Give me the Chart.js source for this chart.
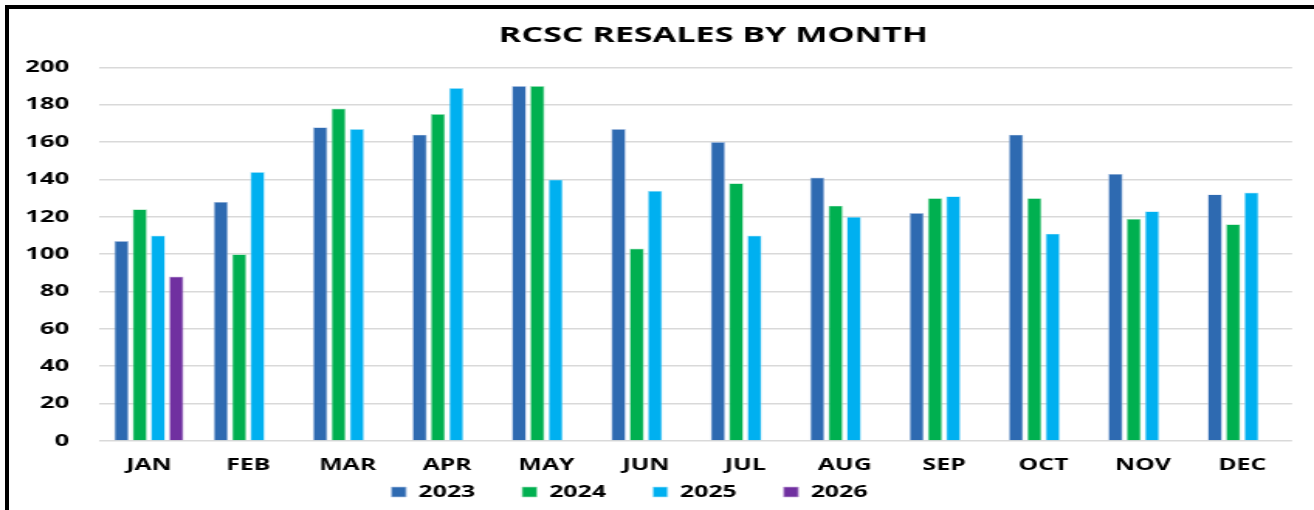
<!DOCTYPE html>
<html>
<head>
<meta charset="utf-8">
<script src="https://cdn.jsdelivr.net/npm/chart.js@4/dist/chart.umd.min.js"></script>
<style>
  body { margin: 0; background: #fff; }
  #wrap { position: relative; width: 1314px; height: 510px; overflow: hidden; }
  #myChart { width: 1314px; height: 510px; }
  #frame { position: absolute; left: 5px; top: 5px; right: -10px; bottom: -10px; border-left: 4px solid #000; border-top: 4px solid #000; pointer-events: none; }
</style>
</head>
<body>
<div id="wrap">
  <!-- the source picture is a horizontally stretched screenshot, so the chart is drawn narrow and stretched by css -->
  <canvas id="myChart" width="848" height="510" style="width:1314px;height:510px"></canvas>
  <div id="frame"></div>
</div>
<script>
const months = ["JAN","FEB","MAR","APR","MAY","JUN","JUL","AUG","SEP","OCT","NOV","DEC"];
const years = ["2023","2024","2025","2026"];
const sales2023 = [107,128,168,164,190,167,160,141,122,164,143,132];
const sales2024 = [124,100,178,175,190,103,138,126,130,130,119,116];
const sales2025 = [110,144,167,189,140,134,110,120,131,111,123,133];
const sales2026 = [88,null,null,null,null,null,null,null,null,null,null,null];
const yTicks = [0,20,40,60,80,100,120,140,160,180,200];

// title sits right of the plot centre, legend a bit left of it (as in the original)
const blockShift = {
    id: "blockShift",
    afterLayout: function (chart) {
        chart.titleBlock.left += 43.5;
        chart.titleBlock.right += 43.5;
        chart.legend.left -= 10.7;
        chart.legend.right -= 10.7;
    }
};

window.onload = function () {
    Chart.defaults.font.family = "'Open Sans', 'DejaVu Sans', sans-serif";
    Chart.defaults.color = "#000";
    const bar = { categoryPercentage: 0.736, barPercentage: 0.8, borderWidth: 0.7 };
    const data = {
        type: "bar",
        data: {
          labels: months,
          datasets: [
            Object.assign({ label: years[0], data: sales2023, backgroundColor: "#2E6AB1", borderColor: "#B4C8E6" }, bar),
            Object.assign({ label: years[1], data: sales2024, backgroundColor: "#00B050", borderColor: "#A6E3BE" }, bar),
            Object.assign({ label: years[2], data: sales2025, backgroundColor: "#00B0F0", borderColor: "#AEE6FA" }, bar),
            Object.assign({ label: years[3], data: sales2026, backgroundColor: "#7030A0", borderColor: "#CDB3E0" }, bar)
          ]
        },
        options: {
          responsive: false,
          animation: false,
          layout: { padding: { top: 0, left: 0, right: 14.2, bottom: 0 } },
          plugins: {
            title: {
              display: true,
              text: "RCSC RESALES BY MONTH",
              font: { size: 22, weight: "bold" },
              padding: { top: 23, bottom: 18 }
            },
            legend: {
              position: "bottom",
              labels: {
                boxWidth: 9.5,
                boxHeight: 10,
                padding: 9.5,
                font: { size: 16, weight: "bold" },
                generateLabels: function (chart) {
                    var items = Chart.defaults.plugins.legend.labels.generateLabels(chart);
                    for (var i = 0; i < items.length - 1; i++) {
                        items[i].text += "     ";
                    }
                    return items;
                }
              }
            },
            tooltip: { enabled: false }
          },
          scales: {
            x: {
              grid: { display: false, drawTicks: true, tickLength: 14.5 },
              border: { display: false },
              ticks: { font: { size: 16, weight: "bold", lineHeight: 1 }, padding: 1.5 }
            },
            y: {
              min: yTicks[0],
              max: yTicks[yTicks.length - 1],
              afterFit: function (scale) { scale.width = 64; },
              afterBuildTicks: function (scale) {
                  scale.ticks = yTicks.map(function (v) { return { value: v }; });
              },
              ticks: { font: { size: 16.5, weight: "bold" }, padding: 19.4 },
              grid: { color: "#d9d9d9", lineWidth: 1.6, drawTicks: false },
              border: { display: false }
            }
          }
        },
        plugins: [blockShift]
      };
    var chart = new Chart("myChart", data);
};
</script>
</body>
</html>
